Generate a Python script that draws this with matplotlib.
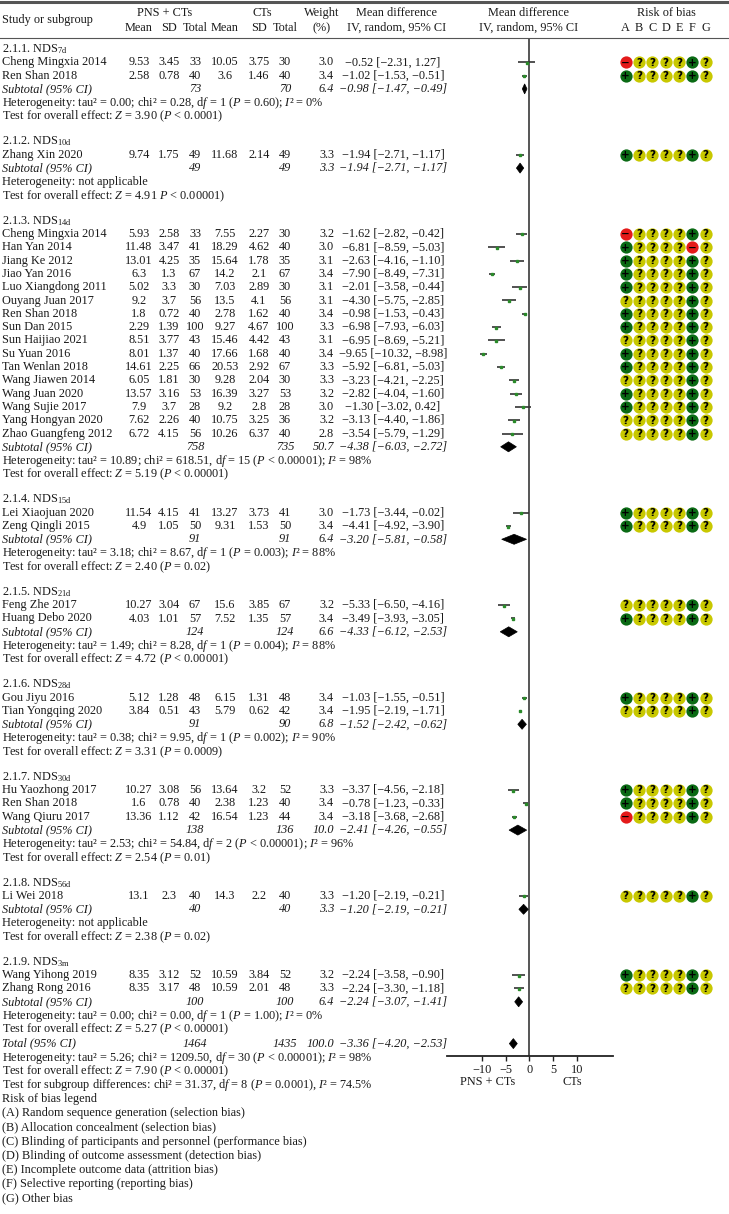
import matplotlib
matplotlib.use("Agg")
import matplotlib.pyplot as plt
from matplotlib.patches import Polygon

plt.rcParams['font.family'] = ['Liberation Serif', 'DejaVu Serif']
plt.rcParams['mathtext.fontset'] = 'custom'
plt.rcParams['mathtext.rm'] = 'Liberation Serif'
plt.rcParams['mathtext.it'] = 'Liberation Serif:italic'
plt.rcParams['mathtext.bf'] = 'Liberation Serif:bold'

# ---------------- data ----------------
sub_codes = ["7d", "10d", "14d", "15d", "21d", "28d", "30d", "56d", "3m"]

study = ["Cheng Mingxia 2014", "Ren Shan 2018",
         "Zhang Xin 2020",
         "Cheng Mingxia 2014", "Han Yan 2014", "Jiang Ke 2012", "Jiao Yan 2016",
         "Luo Xiangdong 2011", "Ouyang Juan 2017", "Ren Shan 2018", "Sun Dan 2015",
         "Sun Haijiao 2021", "Su Yuan 2016", "Tan Wenlan 2018", "Wang Jiawen 2014",
         "Wang Juan 2020", "Wang Sujie 2017", "Yang Hongyan 2020", "Zhao Guangfeng 2012",
         "Lei Xiaojuan 2020", "Zeng Qingli 2015",
         "Feng Zhe 2017", "Huang Debo 2020",
         "Gou Jiyu 2016", "Tian Yongqing 2020",
         "Hu Yaozhong 2017", "Ren Shan 2018", "Wang Qiuru 2017",
         "Li Wei 2018",
         "Wang Yihong 2019", "Zhang Rong 2016"]
group = [0, 0, 1] + [2] * 16 + [3, 3, 4, 4, 5, 5, 6, 6, 6, 7, 8, 8]

pns_mean = [9.53, 2.58, 9.74, 5.93, 11.48, 13.01, 6.3, 5.02, 9.2, 1.8, 2.29, 8.51, 8.01,
            14.61, 6.05, 13.57, 7.9, 7.62, 6.72, 11.54, 4.9, 10.27, 4.03, 5.12, 3.84,
            10.27, 1.6, 13.36, 13.1, 8.35, 8.35]
pns_sd = [3.45, 0.78, 1.75, 2.58, 3.47, 4.25, 1.3, 3.3, 3.7, 0.72, 1.39, 3.77, 1.37,
          2.25, 1.81, 3.16, 3.7, 2.26, 4.15, 4.15, 1.05, 3.04, 1.01, 1.28, 0.51,
          3.08, 0.78, 1.12, 2.3, 3.12, 3.17]
pns_n = [33, 40, 49, 33, 41, 35, 67, 30, 56, 40, 100, 43, 40, 66, 30, 53, 28, 40, 56,
         41, 50, 67, 57, 48, 43, 56, 40, 42, 40, 52, 48]
ct_mean = [10.05, 3.6, 11.68, 7.55, 18.29, 15.64, 14.2, 7.03, 13.5, 2.78, 9.27, 15.46,
           17.66, 20.53, 9.28, 16.39, 9.2, 10.75, 10.26, 13.27, 9.31, 15.6, 7.52, 6.15,
           5.79, 13.64, 2.38, 16.54, 14.3, 10.59, 10.59]
ct_sd = [3.75, 1.46, 2.14, 2.27, 4.62, 1.78, 2.1, 2.89, 4.1, 1.62, 4.67, 4.42, 1.68,
         2.92, 2.04, 3.27, 2.8, 3.25, 6.37, 3.73, 1.53, 3.85, 1.35, 1.31, 0.62,
         3.2, 1.23, 1.23, 2.2, 3.84, 2.01]
ct_n = [30, 40, 49, 30, 40, 35, 67, 30, 56, 40, 100, 43, 40, 67, 30, 53, 28, 36, 40,
        41, 50, 67, 57, 48, 42, 52, 40, 44, 40, 52, 48]
weight = [3.0, 3.4, 3.3, 3.2, 3.0, 3.1, 3.4, 3.1, 3.1, 3.4, 3.3, 3.1, 3.4, 3.3, 3.3,
          3.2, 3.0, 3.2, 2.8, 3.0, 3.4, 3.2, 3.4, 3.4, 3.4, 3.3, 3.4, 3.4, 3.3, 3.2, 3.3]
md = [-0.52, -1.02, -1.94, -1.62, -6.81, -2.63, -7.90, -2.01, -4.30, -0.98, -6.98,
      -6.95, -9.65, -5.92, -3.23, -2.82, -1.30, -3.13, -3.54, -1.73, -4.41, -5.33,
      -3.49, -1.03, -1.95, -3.37, -0.78, -3.18, -1.20, -2.24, -2.24]
ci_lo = [-2.31, -1.53, -2.71, -2.82, -8.59, -4.16, -8.49, -3.58, -5.75, -1.53, -7.93,
         -8.69, -10.32, -6.81, -4.21, -4.04, -3.02, -4.40, -5.79, -3.44, -4.92, -6.50,
         -3.93, -1.55, -2.19, -4.56, -1.23, -3.68, -2.19, -3.58, -3.30]
ci_hi = [1.27, -0.51, -1.17, -0.42, -5.03, -1.10, -7.31, -0.44, -2.85, -0.43, -6.03,
         -5.21, -8.98, -5.03, -2.25, -1.60, 0.42, -1.86, -1.29, -0.02, -3.90, -4.16,
         -3.05, -0.51, -1.71, -2.18, -0.33, -2.68, -0.21, -0.90, -1.18]
rob = ["-????+?", "+????+?", "+????+?",
       "-????+?", "+????-?", "+????+?", "+????+?", "+????+?", "?????+?", "+????+?",
       "+????+?", "?????+?", "+????+?", "+????+?", "?????+?", "+????+?", "+????+?",
       "?????+?", "?????+?",
       "+????+?", "+????+?",
       "?????+?", "+????+?",
       "+????+?", "?????+?",
       "+????+?", "+????+?", "-????+?",
       "?????+?",
       "+????+?", "?????+?"]

sub_pns_n = [73, 49, 758, 91, 124, 91, 138, 40, 100]
sub_ct_n = [70, 49, 735, 91, 124, 90, 136, 40, 100]
sub_weight = [6.4, 3.3, 50.7, 6.4, 6.6, 6.8, 10.0, 3.3, 6.4]
sub_md = [-0.98, -1.94, -4.38, -3.20, -4.33, -1.52, -2.41, -1.20, -2.24]
sub_lo = [-1.47, -2.71, -6.03, -5.81, -6.12, -2.42, -4.26, -2.19, -3.07]
sub_hi = [-0.49, -1.17, -2.72, -0.58, -2.53, -0.62, -0.55, -0.21, -1.41]
het_tau2 = ["0.00", None, "10.89", "3.18", "1.49", "0.38", "2.53", None, "0.00"]
het_chi2 = ["0.28", None, "618.51", "8.67", "8.28", "9.95", "54.84", None, "0.00"]
het_df = [1, None, 15, 1, 1, 1, 2, None, 1]
het_p = ["= 0.60", None, "< 0.00001", "= 0.003", "= 0.004", "= 0.002", "< 0.00001", None, "= 1.00"]
het_i2 = [0, None, 98, 88, 88, 90, 96, None, 0]
z_val = ["3.90", "4.91", "5.19", "2.40", "4.72", "3.31", "2.54", "2.38", "5.27"]
z_p = ["($P$ < 0.0001)", "$P$ < 0.00001)", "($P$ < 0.00001)", "($P$ = 0.02)",
       "($P$ < 0.00001)", "($P$ = 0.0009)", "($P$ = 0.01)", "($P$ = 0.02)", "($P$ < 0.00001)"]

total_n = [1464, 1435]
total_weight = 100.0
total_md, total_lo, total_hi = -3.36, -4.20, -2.53
total_het = ["5.26", "1209.50", 30, "< 0.00001", 98]
total_z = ["7.90", "< 0.00001"]
subgroup_diff = ["31.37", 8, "= 0.0001", "74.5"]

axis_ticks = [-10, -5, 0, 5, 10]
rob_letters = ["A", "B", "C", "D", "E", "F", "G"]
rob_legend = ["(A) Random sequence generation (selection bias)",
              "(B) Allocation concealment (selection bias)",
              "(C) Blinding of participants and personnel (performance bias)",
              "(D) Blinding of outcome assessment (detection bias)",
              "(E) Incomplete outcome data (attrition bias)",
              "(F) Selective reporting (reporting bias)",
              "(G) Other bias"]

# ---------------- layout ----------------
W, H = 729, 1214
FS = 8.8
Y0 = 49.0
STEP = {"hdr": 13.3, "study": 13.3, "sub": 13.3, "het": 14.0, "z": 13.8,
        "blank": 11.5, "total": 14.0, "thet": 14.0, "tz": 13.8, "diff": 14.0,
        "legend": 13.8, "rl": 14.2}
X_MEAN1, X_SD1, X_N1 = 139, 169, 195
X_MEAN2, X_SD2, X_N2 = 225, 259, 285
X_W = 334
X_MD = 393
RX0, RDX = 625.7, 13.33
FX_L, FX_R, ZERO_PX, PX_PER = 447, 613, 529.3, 4.75
TXT = "#1a1a1a"

fig = plt.figure(figsize=(W / 100, H / 100), dpi=100)
ax = fig.add_axes([0, 0, 1, 1])
ax.set_xlim(0, W)
ax.set_ylim(H, 0)
ax.axis("off")

def fnum(v):
    return str(v)

def fmd(v):
    return f"{v:.2f}".replace("-", "\u2212")

def ci_txt(m, lo, hi):
    return f"{fmd(m)} [{fmd(lo)}, {fmd(hi)}]"

def t(x, y, s, ha="left", **kw):
    ax.text(x, y, s, ha=ha, va="center", fontsize=kw.pop("fs", FS), color=TXT, **kw)

# build row list
rows = []
ng = len(sub_codes)
for g in range(ng):
    rows.append(("hdr", g))
    for i in range(len(study)):
        if group[i] == g:
            rows.append(("study", i))
    rows.append(("sub", g))
    rows.append(("het", g))
    rows.append(("z", g))
    if g < ng - 1:
        rows.append(("blank", None))
rows += [("total", None), ("thet", None), ("tz", None), ("diff", None), ("legend", None)]
rows += [("rl", k) for k in range(len(rob_legend))]
ypos = []
y = Y0
for n, (kind, _) in enumerate(rows):
    if n > 0:
        y += STEP[kind]
    ypos.append(y)

total_y = ypos[[r[0] for r in rows].index("total")]
AX_Y = total_y + 12.5
TOP_Y = 38

# forest axes
fx = fig.add_axes([FX_L / W, 1 - AX_Y / H, (FX_R - FX_L) / W, (AX_Y - TOP_Y) / H])
fx.set_xlim((FX_L - ZERO_PX) / PX_PER, (FX_R - ZERO_PX) / PX_PER)
fx.set_ylim(AX_Y, TOP_Y)
fx.patch.set_alpha(0)
for s in ["top", "left", "right"]:
    fx.spines[s].set_visible(False)
fx.spines["bottom"].set_color("#222222")
fx.spines["bottom"].set_linewidth(1.3)
fx.set_yticks([])
fx.set_xticks(axis_ticks)
fx.set_xticklabels([str(v).replace("-", "\u2212") for v in axis_ticks])
fx.tick_params(axis="x", labelsize=FS, length=3.5, width=1.0, color="#222222",
               labelcolor=TXT, pad=2)
fx.axvline(0, color="#555555", lw=1.4, zorder=1)

rob_color = {"+": "#0a6a14", "?": "#c8c800", "-": "#e41a1a"}
rob_sym = {"+": "+", "?": "?", "-": "\u2212"}

def diamond(m, lo, hi, y):
    fx.add_patch(Polygon([(lo, y), (m, y - 5), (hi, y), (m, y + 5)], closed=True,
                         facecolor="black", edgecolor="black", lw=0.5, zorder=3))

# headers
t(2, 20, "Study or subgroup")
t(165, 13, "PNS + CTs", ha="center")
t(262, 13, "CTs", ha="center")
for x, s in [(X_MEAN1, "Mean"), (X_SD1, "SD"), (X_N1, "Total"),
             (X_MEAN2, "Mean"), (X_SD2, "SD"), (X_N2, "Total")]:
    t(x, 28, s, ha="center")
t(322, 13, "Weight", ha="center")
t(322, 28, "(%)", ha="center")
t(397, 13, "Mean difference", ha="center")
t(397, 28, "IV, random, 95% CI", ha="center")
t(529, 13, "Mean difference", ha="center")
t(529, 28, "IV, random, 95% CI", ha="center")
t(666, 13, "Risk of bias", ha="center")
for j, L in enumerate(rob_letters):
    t(RX0 + j * RDX, 28, L, ha="center")
ax.plot([0, W], [2, 2], color="#555555", lw=2.2)
ax.plot([0, W], [TOP_Y, TOP_Y], color="#555555", lw=0.8)

def het_text(tau2, chi2, df, p, i2, sep=";"):
    return (f"Heterogeneity: tau\u00b2 = {tau2}; chi\u00b2 = {chi2}, d$f$ = {df} "
            f"($P$ {p}){sep} $I$\u00b2 = {i2}%")

for (kind, k), y in zip(rows, ypos):
    if kind == "hdr":
        t(2, y, f"2.1.{k + 1}. NDS$_{{\\mathrm{{{sub_codes[k]}}}}}$")
    elif kind == "study":
        i = k
        t(2, y, study[i])
        for x, v in [(X_MEAN1, pns_mean[i]), (X_SD1, pns_sd[i]), (X_N1, pns_n[i]),
                     (X_MEAN2, ct_mean[i]), (X_SD2, ct_sd[i]), (X_N2, ct_n[i])]:
            t(x, y, fnum(v), ha="center")
        t(X_W, y, f"{weight[i]:.1f}", ha="right")
        t(X_MD, y, ci_txt(md[i], ci_lo[i], ci_hi[i]), ha="center")
        fx.plot([ci_lo[i], ci_hi[i]], [y, y], color="#333333", lw=1.2, zorder=2,
                solid_capstyle="butt")
        fx.plot([md[i]], [y + 0.5], marker="s", ms=2.0, color="#2a8a2a", mec="#2a8a2a",
                zorder=3)
        for j, c in enumerate(rob[i]):
            cx = RX0 + j * RDX
            ax.scatter([cx], [y], s=78, color=rob_color[c], zorder=3, linewidths=0)
            ax.text(cx, y + 0.3, rob_sym[c], ha="center", va="center", fontsize=7.5,
                    color="black", fontweight="bold", zorder=4,
                    family=["DejaVu Sans"])
    elif kind == "sub":
        g = k
        t(2, y, "Subtotal (95% CI)", style="italic")
        t(X_N1, y, str(sub_pns_n[g]), ha="center", style="italic")
        t(X_N2, y, str(sub_ct_n[g]), ha="center", style="italic")
        t(X_W, y, f"{sub_weight[g]:.1f}", ha="right", style="italic")
        t(X_MD, y, ci_txt(sub_md[g], sub_lo[g], sub_hi[g]), ha="center", style="italic")
        diamond(sub_md[g], sub_lo[g], sub_hi[g], y)
    elif kind == "het":
        g = k
        if het_tau2[g] is None:
            t(2, y, "Heterogeneity: not applicable")
        else:
            t(2, y, het_text(het_tau2[g], het_chi2[g], het_df[g], het_p[g], het_i2[g]))
    elif kind == "z":
        g = k
        t(2, y, f"Test for overall effect: $Z$ = {z_val[g]} {z_p[g]}")
    elif kind == "total":
        t(2, y, "Total (95% CI)", style="italic")
        t(X_N1, y, str(total_n[0]), ha="center", style="italic")
        t(X_N2, y, str(total_n[1]), ha="center", style="italic")
        t(X_W, y, f"{total_weight:.1f}", ha="right", style="italic")
        t(X_MD, y, ci_txt(total_md, total_lo, total_hi), ha="center", style="italic")
        diamond(total_md, total_lo, total_hi, y)
    elif kind == "thet":
        a = total_het
        t(2, y, het_text(a[0], a[1], a[2], a[3], a[4]))
    elif kind == "tz":
        t(2, y, f"Test for overall effect: $Z$ = {total_z[0]} ($P$ {total_z[1]})")
    elif kind == "diff":
        a = subgroup_diff
        t(2, y, f"Test for subgroup differences: chi\u00b2 = {a[0]}, d$f$ = {a[1]} "
                f"($P$ {a[2]}), $I$\u00b2 = {a[3]}%")
    elif kind == "legend":
        t(2, y, "Risk of bias legend")
    elif kind == "rl":
        t(2, y, rob_legend[k])

# favours labels
t(ZERO_PX - 8.7 * PX_PER, AX_Y + 26, "PNS + CTs", ha="center")
t(ZERO_PX + 9.0 * PX_PER, AX_Y + 26, "CTs", ha="center")

fig.savefig("out.png", dpi=100)
